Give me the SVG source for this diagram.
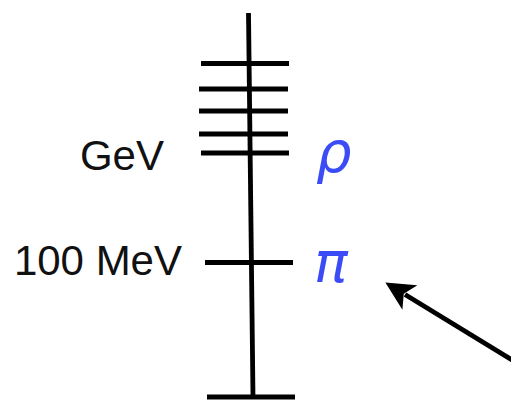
<svg xmlns="http://www.w3.org/2000/svg" width="511" height="404" viewBox="0 0 511 404">
<style>
.ln{stroke:#000;stroke-width:4.8;stroke-linecap:butt;fill:none}
.lbl{font-family:"Liberation Sans",Arial,sans-serif;font-size:42px;fill:#111}
.gr{font-family:"DejaVu Sans",sans-serif;font-style:italic;font-size:56px;fill:#3b4cf6}
</style>
<defs>
<marker id="ah" viewBox="0 0 10 10" refX="2" refY="5" markerWidth="6" markerHeight="6" orient="auto" markerUnits="strokeWidth">
<path d="M10,5 L0,0 L2.5,5 L0,10 Z" fill="#000"/>
</marker>
</defs>
<rect width="511" height="404" fill="#fff"/>
<g id="axis">
<line class="ln" x1="248.5" y1="13" x2="253" y2="398"/>
</g>
<g id="levels">
<line class="ln" x1="201" y1="63.5" x2="289" y2="63.5"/>
<line class="ln" x1="199" y1="89" x2="288" y2="89"/>
<line class="ln" x1="199" y1="111" x2="288" y2="111"/>
<line class="ln" x1="199" y1="134" x2="288" y2="134"/>
<line class="ln" x1="201" y1="153" x2="289" y2="153"/>
<line class="ln" x1="205" y1="262.5" x2="293" y2="262.5"/>
<line class="ln" x1="207" y1="397" x2="295" y2="397"/>
</g>
<g id="labels">
<text class="lbl" x="164" y="170" text-anchor="end">GeV</text>
<text class="lbl" x="182" y="275" text-anchor="end">100 MeV</text>
</g>
<g id="rho"><text class="gr" x="316" y="172">ρ</text></g>
<g id="pi"><text class="gr" x="314" y="282">π</text></g>
<g id="connectors">
<line class="ln" x1="512" y1="360" x2="405" y2="294.5" marker-end="url(#ah)"/>
</g>
</svg>
